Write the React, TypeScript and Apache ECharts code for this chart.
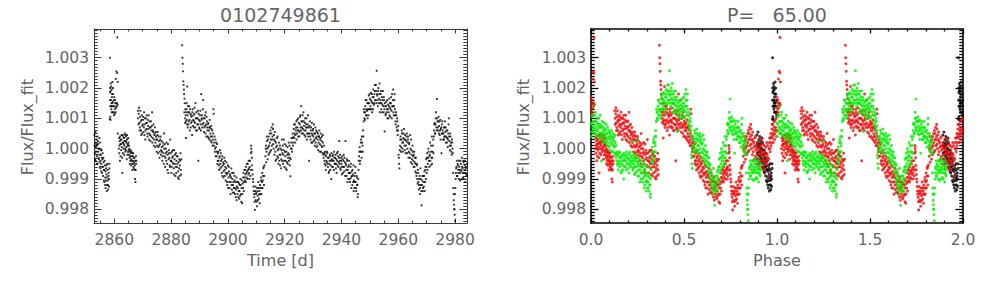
import React, { useEffect, useRef } from "react";
import * as echarts from "echarts";

const STAR_ID = "0102749861";
const PERIOD = 65.0;
const EPOCH = 2860.0;
const PERIOD_TITLE = "P=   65.00";
const TIME_LABEL = "Time [d]";
const PHASE_LABEL = "Phase";
const FLUX_LABEL = "Flux/Flux_fit";

const timeTicks = [2860, 2880, 2900, 2920, 2940, 2960, 2980];
const timeMinorTicks = [2855, 2865, 2870, 2875, 2885, 2890, 2895, 2905, 2910, 2915, 2925, 2930, 2935, 2945, 2950, 2955, 2965, 2970, 2975];
const phaseTicks = [0, 0.5, 1.0, 1.5, 2.0];
const phaseMinorTicks = [0.1, 0.2, 0.3, 0.4, 0.6, 0.7, 0.8, 0.9, 1.1, 1.2, 1.3, 1.4, 1.6, 1.7, 1.8, 1.9];
const fluxTicks = [0.998, 0.999, 1.0, 1.001, 1.002, 1.003];

// light curve: [time (d), flux/flux_fit]
const lcSeg1 = [
  [2853.0, 1.00045], [2853.1, 0.99985], [2853.25, 1.0002], [2853.4, 0.9996], [2853.5, 1.00005], [2853.65, 1.0003],
  [2853.8, 0.99975], [2853.9, 1.0001], [2854.05, 0.9995], [2854.2, 1.00025], [2854.35, 0.9999], [2854.5, 1.0],
  [2854.6, 0.99965], [2854.75, 1.00035], [2854.9, 0.9994], [2855.0, 0.9998], [2855.15, 0.9996], [2855.3, 0.99995],
  [2855.45, 0.99925], [2855.6, 0.9997], [2855.75, 0.9994], [2855.9, 0.99985], [2856.05, 0.9991], [2856.2, 0.99955],
  [2856.35, 0.9993], [2856.5, 0.9989], [2856.65, 0.99945], [2856.8, 0.99905], [2856.95, 0.9987], [2857.1, 0.99935],
  [2857.25, 0.99915], [2857.4, 0.9988], [2857.55, 0.9995], [2857.7, 0.99895], [2857.85, 0.99865], [2858.0, 0.9992],
  [2858.15, 0.999], [2858.3, 0.99935],
  [2853.05, 1.0001], [2853.2, 0.99965], [2853.35, 1.00055], [2853.55, 0.9999], [2853.7, 1.00015], [2853.85, 0.9995],
  [2854.0, 1.0004], [2854.15, 0.9998], [2854.3, 1.00015], [2854.45, 0.9997], [2854.65, 1.0], [2854.8, 0.99955],
  [2854.95, 1.0002], [2855.1, 0.99935], [2855.25, 0.9998], [2855.4, 0.9995], [2855.55, 0.99995], [2855.7, 0.9992],
  [2855.85, 0.99965], [2856.0, 0.9994], [2856.15, 0.9997], [2856.3, 0.99895], [2856.45, 0.9993], [2856.6, 0.9996],
  [2856.75, 0.9988], [2856.9, 0.99925], [2857.05, 0.99895], [2857.2, 0.99945], [2857.35, 0.9986], [2857.5, 0.99905],
  [2857.65, 0.9993], [2857.8, 0.9988], [2857.95, 0.9991], [2858.1, 0.99875], [2858.25, 0.9995],
];
const lcSeg2 = [
  [2858.4, 1.00098], [2858.45, 1.003], [2858.5, 1.002], [2858.55, 1.00185], [2858.6, 1.0014], [2858.65, 1.00095],
  [2858.75, 1.00215], [2858.85, 1.0016], [2858.95, 1.0013], [2859.05, 1.00195], [2859.15, 1.0017], [2859.25, 1.0014],
  [2859.35, 1.0022], [2859.5, 1.00155], [2859.6, 1.0018], [2859.75, 1.0012], [2859.9, 1.0016], [2860.05, 1.0014],
  [2860.2, 1.00115], [2860.35, 1.0015], [2860.5, 1.0023], [2860.6, 1.00135], [2860.75, 1.00255], [2860.9, 1.0015],
  [2861.05, 1.00367], [2861.15, 1.00145], [2861.25, 1.0005],
  [2858.48, 1.0016], [2858.58, 1.00105], [2858.7, 1.0019], [2858.8, 1.0014], [2858.9, 1.00205], [2859.0, 1.0015],
  [2859.1, 1.0012], [2859.2, 1.0018], [2859.3, 1.0015], [2859.45, 1.0012], [2859.55, 1.002], [2859.7, 1.0014],
  [2859.85, 1.0011], [2860.0, 1.0017], [2860.15, 1.0013], [2860.3, 1.0016], [2860.45, 1.0012], [2860.7, 1.0015],
  [2860.85, 1.0014], [2861.0, 1.0025], [2861.2, 1.0022],
];
const lcSeg3 = [
  [2861.6, 1.0], [2861.75, 0.99985], [2861.9, 1.00025], [2862.05, 1.0004], [2862.2, 0.99975], [2862.35, 1.00015],
  [2862.5, 1.0003], [2862.65, 1.00005], [2862.8, 0.9992], [2862.95, 1.00045], [2863.1, 1.0002], [2863.25, 1.0],
  [2863.4, 1.00035], [2863.55, 1.0001], [2863.7, 1.0005], [2863.85, 0.9999], [2864.0, 1.00025], [2864.15, 1.0004],
  [2864.3, 1.00005], [2864.45, 1.0003], [2864.6, 0.9998], [2864.75, 1.00015], [2864.9, 1.00035], [2865.05, 0.99995],
  [2865.2, 1.0001], [2865.35, 0.9997], [2865.5, 0.9999], [2865.65, 0.9996], [2865.8, 0.99985], [2865.95, 0.99965],
  [2866.1, 0.99975], [2866.25, 0.9995], [2866.4, 0.99985], [2866.55, 0.9996], [2866.7, 0.9994], [2866.85, 0.9997],
  [2867.0, 0.99955], [2867.15, 0.9993], [2867.3, 0.999], [2867.45, 0.9989], [2867.6, 0.99975], [2867.75, 0.9996],
  [2861.68, 1.00035], [2861.82, 1.0001], [2861.98, 0.9996], [2862.12, 1.00015], [2862.28, 1.0003], [2862.42, 0.99995],
  [2862.58, 1.00045], [2862.72, 0.9997], [2862.88, 1.0002], [2863.02, 0.99985], [2863.18, 1.0004], [2863.32, 1.00015],
  [2863.48, 0.9998], [2863.62, 1.00025], [2863.78, 1.0], [2863.92, 1.00045], [2864.08, 0.99995], [2864.22, 1.0002],
  [2864.38, 0.99965], [2864.52, 1.00045], [2864.68, 1.0001], [2864.82, 0.9999], [2864.98, 1.0002], [2865.12, 0.9998],
  [2865.28, 1.0], [2865.42, 0.9995], [2865.58, 0.99975], [2865.72, 0.99995], [2865.88, 0.99945], [2866.02, 0.9999],
  [2866.18, 0.9996], [2866.32, 0.9993], [2866.48, 0.99975], [2866.62, 0.99985], [2866.78, 0.9995], [2866.92, 0.99935],
  [2867.08, 0.9997], [2867.22, 0.99945], [2867.38, 0.9996], [2867.52, 0.9993], [2867.68, 0.9995],
];
const lcSeg4 = [
  [2868.3, 1.00125], [2868.5, 1.0008], [2868.7, 1.00135], [2868.9, 1.0006], [2869.1, 1.00105], [2869.3, 1.0009],
  [2869.5, 1.00045], [2869.7, 1.0011], [2869.9, 1.00075], [2870.1, 1.00095], [2870.3, 1.00055], [2870.5, 1.0012],
  [2870.7, 1.0008], [2870.9, 1.0003], [2871.1, 1.001], [2871.3, 1.00065], [2871.5, 1.00085], [2871.7, 1.0004],
  [2871.9, 1.00075], [2872.1, 1.0011], [2872.3, 1.0005], [2872.5, 1.0007], [2872.7, 1.00025], [2872.9, 1.0009],
  [2873.1, 1.0006], [2873.3, 1.0012], [2873.5, 1.00035], [2873.7, 1.00055], [2873.9, 1.0001], [2874.1, 1.00045],
  [2874.3, 1.0007], [2874.5, 1.0002], [2874.7, 1.0004], [2874.9, 0.9999], [2875.1, 1.0003], [2875.3, 1.00055],
  [2875.5, 1.00005], [2875.7, 1.00025], [2875.9, 0.9997], [2876.1, 1.00015], [2876.3, 1.0004], [2876.5, 0.99995],
  [2876.7, 1.00005], [2876.9, 0.9996], [2877.1, 1.0002], [2877.3, 0.99985], [2877.5, 1.0005], [2877.7, 0.99975],
  [2877.9, 0.9994], [2878.1, 1.0], [2878.3, 0.9996], [2878.5, 0.9999], [2878.7, 0.9993], [2878.9, 1.00015],
  [2879.1, 0.99965], [2879.3, 0.99985], [2879.5, 0.99945], [2879.7, 1.0003], [2879.9, 0.9996], [2880.1, 0.9992],
  [2880.3, 0.9999], [2880.5, 0.99955], [2880.7, 0.99975], [2880.9, 0.99935], [2881.1, 0.99995], [2881.3, 0.9995],
  [2881.5, 0.9991], [2881.7, 0.99985], [2881.9, 0.9996], [2882.1, 0.9994], [2882.3, 0.99975], [2882.5, 0.99925],
  [2882.7, 0.999], [2882.9, 0.99965], [2883.1, 0.99945], [2883.3, 0.99985], [2883.5, 0.99915],
  [2868.4, 1.001], [2868.6, 1.00115], [2868.8, 1.00085], [2869.0, 1.0007], [2869.2, 1.00125], [2869.4, 1.0006],
  [2869.6, 1.00095], [2869.8, 1.0005], [2870.0, 1.0008], [2870.2, 1.00105], [2870.4, 1.0007], [2870.6, 1.00045],
  [2870.8, 1.001], [2871.0, 1.0006], [2871.2, 1.00085], [2871.4, 1.0011], [2871.6, 1.0005], [2871.8, 1.00095],
  [2872.0, 1.00065], [2872.2, 1.0003], [2872.4, 1.0009], [2872.6, 1.00045], [2872.8, 1.0007], [2873.0, 1.0004],
  [2873.2, 1.00075], [2873.4, 1.0002], [2873.6, 1.0006], [2873.8, 1.0008], [2874.0, 1.0003], [2874.2, 1.0005],
  [2874.4, 1.00005], [2874.6, 1.00055], [2874.8, 1.0003], [2875.0, 1.0001], [2875.2, 1.00045], [2875.4, 0.99985],
  [2875.6, 1.0004], [2875.8, 1.0001], [2876.0, 0.9999], [2876.2, 1.0003], [2876.4, 0.9998], [2876.6, 1.00025],
  [2876.8, 0.9999], [2877.0, 0.99975], [2877.2, 1.0001], [2877.4, 0.9995], [2877.6, 1.0], [2877.8, 1.00015],
  [2878.0, 0.9997], [2878.2, 0.99985], [2878.4, 1.0002], [2878.6, 0.9995], [2878.8, 0.9998], [2879.0, 0.9992],
  [2879.2, 0.99995], [2879.4, 0.9997], [2879.6, 0.9994], [2879.8, 0.99985], [2880.0, 0.9996], [2880.2, 0.9994],
  [2880.4, 0.9997], [2880.6, 0.99995], [2880.8, 0.9995], [2881.0, 0.99915], [2881.2, 0.99965], [2881.4, 0.9998],
  [2881.6, 0.9994], [2881.8, 0.9992], [2882.0, 0.99975], [2882.2, 0.9995], [2882.4, 0.99905], [2882.6, 0.99955],
  [2882.8, 0.99935], [2883.0, 0.9991], [2883.2, 0.9996], [2883.4, 0.9993], [2883.6, 0.99965],
];
const lcSeg5 = [
  [2883.9, 1.00341], [2884.0, 1.003], [2884.1, 1.0028], [2884.2, 1.00255], [2884.3, 1.00222], [2884.4, 1.0021],
  [2884.5, 1.00195], [2884.65, 1.0012], [2884.8, 1.0015], [2884.95, 1.00085], [2885.1, 1.0011], [2885.25, 1.00035],
  [2885.4, 1.0013], [2885.55, 1.00095], [2885.7, 1.00205], [2885.85, 1.0007], [2886.0, 1.0012], [2886.2, 1.0009],
  [2886.4, 1.0014], [2886.6, 1.0006], [2886.8, 1.00115], [2887.0, 1.00085], [2887.2, 1.00105], [2887.4, 1.00045],
  [2887.6, 1.0013], [2887.8, 1.00095], [2888.0, 1.0007], [2888.2, 1.00115], [2888.4, 1.00085], [2888.6, 1.0015],
  [2888.8, 1.0006], [2889.0, 1.001], [2889.2, 1.0008], [2889.4, 1.00125], [2889.6, 0.9996], [2889.8, 1.00095],
  [2890.0, 1.00065], [2890.2, 1.0011], [2890.4, 1.0008], [2890.6, 1.0018], [2890.8, 1.001], [2891.0, 1.0007],
  [2891.2, 1.0013], [2891.4, 1.00085], [2891.6, 1.00055], [2891.8, 1.001], [2892.0, 1.00075], [2892.2, 1.0012],
  [2892.4, 1.0004], [2892.6, 1.0009], [2892.8, 1.0006], [2893.0, 1.0008], [2893.2, 1.00035], [2893.4, 1.0007],
  [2893.6, 1.00095], [2893.8, 1.0005], [2894.0, 1.00025], [2894.2, 1.00065], [2894.4, 1.0004], [2894.6, 1.0001],
  [2894.8, 1.0005], [2895.0, 1.00115], [2895.2, 1.0002], [2895.4, 0.9999], [2895.6, 1.0003], [2895.8, 1.00005],
  [2896.0, 0.99975], [2896.2, 1.00015], [2896.4, 0.9996], [2896.6, 0.9999], [2896.8, 0.99945], [2897.0, 0.9997],
  [2897.2, 0.99995], [2897.4, 0.99935], [2897.6, 0.9996], [2897.8, 0.9992], [2898.0, 0.99975], [2898.2, 0.99945],
  [2898.4, 0.99905], [2898.6, 0.9995], [2898.8, 0.9993], [2899.0, 0.9996], [2899.2, 0.99895], [2899.4, 0.99935],
  [2899.6, 0.99915], [2899.8, 0.9988], [2900.0, 0.99945], [2900.2, 0.99905], [2900.4, 0.99925], [2900.6, 0.9987],
  [2900.8, 0.9991], [2901.0, 0.9989], [2901.2, 0.99935], [2901.4, 0.99865], [2901.6, 0.999], [2901.8, 0.9988],
  [2902.0, 0.9992], [2902.2, 0.99855], [2902.4, 0.99895], [2902.6, 0.9987], [2902.8, 0.9984], [2903.0, 0.99905],
  [2903.2, 0.99875], [2903.4, 0.9985], [2903.6, 0.9989], [2903.8, 0.9986], [2904.0, 0.99835], [2904.2, 0.9988],
  [2904.4, 0.999], [2904.6, 0.9985], [2904.8, 0.9987], [2905.0, 0.9982], [2905.2, 0.99885], [2905.4, 0.99905],
  [2905.6, 0.9986], [2905.8, 0.9993], [2906.0, 0.99895], [2906.2, 0.99915], [2906.4, 0.9994], [2906.6, 0.99905],
  [2906.8, 0.99925], [2907.0, 0.9995], [2907.2, 0.99915], [2907.4, 0.99935], [2907.6, 0.999], [2907.8, 0.9996],
  [2908.0, 0.9993], [2908.2, 1.0001], [2908.35, 0.9999], [2908.5, 0.99945], [2908.7, 0.99915], [2908.9, 0.9989],
  [2909.1, 0.9986], [2909.3, 0.9984], [2909.5, 0.99798], [2909.7, 0.99875], [2909.9, 0.9985], [2910.1, 0.99825],
  [2910.3, 0.9987], [2910.5, 0.99845], [2910.7, 0.9989], [2910.9, 0.99835], [2911.1, 0.9986], [2911.3, 0.9988],
  [2911.5, 0.9985], [2911.7, 0.99905], [2911.9, 0.9987], [2912.1, 0.9992], [2912.3, 0.99895], [2912.5, 0.99935],
  [2912.7, 0.9988], [2912.9, 0.99945],
  [2884.58, 1.0018], [2884.72, 1.00165], [2884.88, 1.001], [2885.02, 1.0013], [2885.18, 1.0009], [2885.32, 1.0012],
  [2885.48, 1.0015], [2885.62, 1.0008], [2885.78, 1.0011], [2885.92, 1.0014], [2886.1, 1.0008], [2886.3, 1.0012],
  [2886.5, 1.00095], [2886.7, 1.0013], [2886.9, 1.0007], [2887.1, 1.0011], [2887.3, 1.0009], [2887.5, 1.0012],
  [2887.7, 1.00075], [2887.9, 1.0011], [2888.1, 1.0009], [2888.3, 1.00135], [2888.5, 1.0007], [2888.7, 1.001],
  [2888.9, 1.0012], [2889.1, 1.0006], [2889.3, 1.001], [2889.5, 1.0008], [2889.7, 1.00115], [2889.9, 1.0007],
  [2890.1, 1.0009], [2890.3, 1.00125], [2890.5, 1.0006], [2890.7, 1.00095], [2890.9, 1.0011], [2891.1, 1.0008],
  [2891.3, 1.0016], [2891.5, 1.001], [2891.7, 1.0007], [2891.9, 1.0011], [2892.1, 1.0005], [2892.3, 1.0008],
  [2892.5, 1.00105], [2892.7, 1.0007], [2892.9, 1.0004], [2893.1, 1.00085], [2893.3, 1.0006], [2893.5, 1.0003],
  [2893.7, 1.0007], [2893.9, 1.0004], [2894.1, 1.00075], [2894.3, 1.0002], [2894.5, 1.0006], [2894.7, 1.0003],
  [2894.9, 1.0013], [2895.1, 1.0001], [2895.3, 1.0004], [2895.5, 1.0], [2895.7, 0.99975], [2895.9, 1.0002],
  [2896.1, 0.9999], [2896.3, 0.9995], [2896.5, 0.99985], [2896.7, 0.9996], [2896.9, 0.9993], [2897.1, 0.99975],
  [2897.3, 0.9995], [2897.5, 0.99985], [2897.7, 0.9994], [2897.9, 0.99965], [2898.1, 0.9991], [2898.3, 0.99955],
  [2898.5, 0.99925], [2898.7, 0.9997], [2898.9, 0.9991], [2899.1, 0.9994], [2899.3, 0.9992], [2899.5, 0.99955],
  [2899.7, 0.9989], [2899.9, 0.9992], [2900.1, 0.9987], [2900.3, 0.9994], [2900.5, 0.9989], [2900.7, 0.99915],
  [2900.9, 0.9985], [2901.1, 0.99905], [2901.3, 0.9988], [2901.5, 0.9992], [2901.7, 0.99855], [2901.9, 0.9989],
  [2902.1, 0.9987], [2902.3, 0.9991], [2902.5, 0.9985], [2902.7, 0.9989], [2902.9, 0.99865], [2903.1, 0.9983],
  [2903.3, 0.9989], [2903.5, 0.9987], [2903.7, 0.9984], [2903.9, 0.99885], [2904.1, 0.9986], [2904.3, 0.99845],
  [2904.5, 0.9988], [2904.7, 0.99825], [2904.9, 0.99895], [2905.1, 0.9985], [2905.3, 0.9987], [2905.5, 0.9992],
  [2905.7, 0.9989], [2905.9, 0.99905], [2906.1, 0.9993], [2906.3, 0.9989], [2906.5, 0.9992], [2906.7, 0.9995],
  [2906.9, 0.999], [2907.1, 0.9993], [2907.3, 0.9996], [2907.5, 0.9992], [2907.7, 0.9994], [2907.9, 0.9991],
  [2908.1, 0.99985], [2908.25, 1.0], [2908.45, 0.9997], [2908.6, 0.9993], [2908.8, 0.999], [2909.0, 0.99875],
  [2909.2, 0.9985], [2909.4, 0.99825], [2909.6, 0.9986], [2909.8, 0.9983], [2910.0, 0.99855], [2910.2, 0.9981],
  [2910.4, 0.9986], [2910.6, 0.9983], [2910.8, 0.9987], [2911.0, 0.9985], [2911.2, 0.9982], [2911.4, 0.9987],
  [2911.6, 0.99895], [2911.8, 0.9985], [2912.0, 0.9989], [2912.2, 0.9987], [2912.4, 0.9991], [2912.6, 0.9994],
  [2912.8, 0.9991],
];
const lcSeg6 = [
  [2913.2, 0.99975], [2913.4, 1.0001], [2913.6, 0.9999], [2913.8, 1.00025], [2914.0, 0.99965], [2914.2, 1.00005],
  [2914.4, 1.0004], [2914.6, 0.99985], [2914.8, 1.0002], [2915.0, 1.0006], [2915.2, 0.99995], [2915.4, 1.0007],
  [2915.6, 1.0003], [2915.8, 1.0008], [2916.0, 1.00015], [2916.2, 1.00045], [2916.4, 0.9998], [2916.6, 1.00025],
  [2916.8, 0.9996], [2917.0, 1.00005], [2917.2, 1.00035], [2917.4, 0.99975], [2917.6, 0.99995], [2917.8, 0.9995],
  [2918.0, 1.0002], [2918.2, 0.9998], [2918.4, 0.99945], [2918.6, 1.0], [2918.8, 0.99965], [2919.0, 1.0003],
  [2919.2, 0.99985], [2919.4, 0.9995], [2919.6, 0.99995], [2919.8, 0.9996], [2920.0, 1.00015], [2920.2, 0.99975],
  [2920.4, 0.99935], [2920.6, 0.9999], [2920.8, 0.99955], [2921.0, 1.00005], [2921.2, 0.9997], [2921.4, 1.0002],
  [2921.6, 0.9998], [2921.8, 0.99945], [2922.0, 0.99909], [2922.2, 1.0], [2922.4, 1.00035], [2922.6, 0.9999],
  [2922.8, 1.0005], [2923.0, 1.0002], [2923.2, 1.00065], [2923.4, 1.00035], [2923.6, 1.0008], [2923.8, 1.00045],
  [2924.0, 1.0007], [2924.2, 1.0003], [2924.4, 1.00095], [2924.6, 1.0006], [2924.8, 1.0004], [2925.0, 1.00085],
  [2925.2, 1.00055], [2925.4, 1.00105], [2925.6, 1.0007], [2925.8, 1.0014], [2926.0, 1.0005], [2926.2, 1.0009],
  [2926.4, 1.00065], [2926.6, 1.0012], [2926.8, 1.00075], [2927.0, 1.00045], [2927.2, 1.001], [2927.4, 1.0006],
  [2927.6, 1.0008], [2927.8, 1.0003], [2928.0, 1.0007], [2928.2, 1.0011], [2928.4, 1.0005], [2928.6, 0.9996],
  [2928.8, 1.00075], [2929.0, 1.0004], [2929.2, 1.0006], [2929.4, 1.0002], [2929.6, 1.00085], [2929.8, 1.00045],
  [2930.0, 1.00065], [2930.2, 1.00025], [2930.4, 1.0005], [2930.6, 1.0001], [2930.8, 1.0007], [2931.0, 1.00035],
  [2931.2, 1.00005], [2931.4, 1.00055], [2931.6, 1.0003], [2931.8, 0.99995], [2932.0, 1.0004], [2932.2, 1.0006],
  [2932.4, 1.00015], [2932.6, 1.00035], [2932.8, 0.9999], [2933.0, 1.00025], [2933.2, 1.00005], [2933.4, 1.00045],
  [2933.6, 0.9998], [2933.8, 1.0001], [2934.0, 0.9996], [2934.2, 0.9999], [2934.4, 0.99945], [2934.6, 0.99975],
  [2934.8, 0.99955], [2935.0, 0.99985], [2935.2, 0.9994], [2935.4, 0.9997], [2935.6, 0.99925], [2935.8, 0.9996],
  [2936.0, 0.9998], [2936.2, 0.99945], [2936.4, 0.999], [2936.6, 0.99965], [2936.8, 0.99975], [2937.0, 0.9994],
  [2937.2, 0.9996], [2937.4, 0.9999], [2937.6, 0.9995], [2937.8, 0.9997], [2938.0, 0.99935], [2938.2, 0.99965],
  [2938.4, 0.99985], [2938.6, 0.99945], [2938.8, 0.99975], [2939.0, 0.99955], [2939.2, 1.00025], [2939.4, 0.9996],
  [2939.6, 0.99935], [2939.8, 0.9997], [2940.0, 0.9995], [2940.2, 0.99915], [2940.4, 0.99965], [2940.6, 0.9994],
  [2940.8, 0.9998], [2941.0, 0.99925], [2941.2, 0.99955], [2941.4, 1.00025], [2941.6, 0.99945], [2941.8, 0.9991],
  [2942.0, 0.9996], [2942.2, 0.9993], [2942.4, 0.999], [2942.6, 0.99945], [2942.8, 0.9992], [2943.0, 0.9989],
  [2943.2, 0.9994], [2943.4, 0.99905], [2943.6, 0.99925], [2943.8, 0.9988], [2944.0, 0.99915], [2944.2, 0.99945],
  [2944.4, 0.99895], [2944.6, 0.9987], [2944.8, 0.9992], [2945.0, 0.9989], [2945.2, 0.9986], [2945.4, 0.99905],
  [2945.6, 0.99881], [2945.8, 0.9985], [2946.0, 0.9993], [2946.2, 0.99975], [2946.4, 1.00005], [2946.6, 0.9996],
  [2946.8, 1.0002], [2947.0, 0.9999], [2947.2, 1.0004], [2947.4, 1.0001], [2947.6, 1.0006],
  [2913.3, 1.0], [2913.5, 0.99955], [2913.7, 1.0004], [2913.9, 1.0], [2914.1, 1.0003], [2914.3, 0.9998],
  [2914.5, 1.0001], [2914.7, 1.0005], [2914.9, 0.9999], [2915.1, 1.0003], [2915.3, 1.0005], [2915.5, 1.0001],
  [2915.7, 1.0004], [2915.9, 1.00065], [2916.1, 1.0], [2916.3, 1.0003], [2916.5, 1.00055], [2916.7, 0.9999],
  [2916.9, 1.0002], [2917.1, 0.99965], [2917.3, 1.0001], [2917.5, 1.0004], [2917.7, 0.9997], [2917.9, 1.0],
  [2918.1, 0.9996], [2918.3, 1.0001], [2918.5, 0.9998], [2918.7, 0.99935], [2918.9, 0.99995], [2919.1, 0.9996],
  [2919.3, 1.0001], [2919.5, 0.9998], [2919.7, 1.0003], [2919.9, 0.9994], [2920.1, 0.9999], [2920.3, 0.9996],
  [2920.5, 1.0001], [2920.7, 0.9993], [2920.9, 0.9998], [2921.1, 0.9995], [2921.3, 0.99985], [2921.5, 0.9996],
  [2921.7, 1.0001], [2921.9, 0.9997], [2922.1, 0.99965], [2922.3, 1.0002], [2922.5, 1.0], [2922.7, 1.00035],
  [2922.9, 1.0001], [2923.1, 1.0004], [2923.3, 1.0008], [2923.5, 1.0005], [2923.7, 1.0002], [2923.9, 1.0006],
  [2924.1, 1.0009], [2924.3, 1.0005], [2924.5, 1.0007], [2924.7, 1.001], [2924.9, 1.0006], [2925.1, 1.0004],
  [2925.3, 1.0008], [2925.5, 1.0011], [2925.7, 1.0006], [2925.9, 1.0009], [2926.1, 1.0007], [2926.3, 1.0011],
  [2926.5, 1.0005], [2926.7, 1.0009], [2926.9, 1.0006], [2927.1, 1.00085], [2927.3, 1.0004], [2927.5, 1.0007],
  [2927.7, 1.001], [2927.9, 1.0005], [2928.1, 1.0008], [2928.3, 1.0004], [2928.5, 1.0007], [2928.7, 1.0005],
  [2928.9, 1.0009], [2929.1, 1.0003], [2929.3, 1.0007], [2929.5, 1.0005], [2929.7, 1.0002], [2929.9, 1.0006],
  [2930.1, 1.0004], [2930.3, 1.0008], [2930.5, 1.0003], [2930.7, 1.0005], [2930.9, 1.0002], [2931.1, 1.0006],
  [2931.3, 1.0004], [2931.5, 1.0001], [2931.7, 1.0005], [2931.9, 1.0002], [2932.1, 1.0004], [2932.3, 0.9999],
  [2932.5, 1.0003], [2932.7, 1.0005], [2932.9, 1.0001], [2933.1, 1.0004], [2933.3, 0.99985], [2933.5, 1.0002],
  [2933.7, 0.9997], [2933.9, 0.99985], [2934.1, 0.9995], [2934.3, 0.9998], [2934.5, 0.9993], [2934.7, 0.9996],
  [2934.9, 0.9999], [2935.1, 0.9995], [2935.3, 0.9997], [2935.5, 0.9992], [2935.7, 0.9995], [2935.9, 0.99975],
  [2936.1, 0.9993], [2936.3, 0.9996], [2936.5, 0.99985], [2936.7, 0.9994], [2936.9, 0.9996], [2937.1, 0.9998],
  [2937.3, 0.9993], [2937.5, 0.9997], [2937.7, 0.9995], [2937.9, 0.9998], [2938.1, 0.9995], [2938.3, 0.9992],
  [2938.5, 0.9996], [2938.7, 0.9999], [2938.9, 0.9994], [2939.1, 0.9997], [2939.3, 0.9995], [2939.5, 0.9998],
  [2939.7, 0.9993], [2939.9, 0.9996], [2940.1, 0.9994], [2940.3, 0.99975], [2940.5, 0.9992], [2940.7, 0.9996],
  [2940.9, 0.9994], [2941.1, 0.9997], [2941.3, 0.9991], [2941.5, 0.9995], [2941.7, 0.9993], [2941.9, 0.99965],
  [2942.1, 0.9989], [2942.3, 0.9994], [2942.5, 0.9992], [2942.7, 0.9996], [2942.9, 0.999], [2943.1, 0.9992],
  [2943.3, 0.9995], [2943.5, 0.9987], [2943.7, 0.9991], [2943.9, 0.9993], [2944.1, 0.9989], [2944.3, 0.9986],
  [2944.5, 0.9991], [2944.7, 0.9989], [2944.9, 0.9994], [2945.1, 0.9987], [2945.3, 0.9991], [2945.5, 0.9988],
  [2945.7, 0.9984], [2945.9, 0.999], [2946.1, 0.9996], [2946.3, 0.9999], [2946.5, 0.9995], [2946.7, 0.9999],
  [2946.9, 1.0003], [2947.1, 0.9997], [2947.3, 1.0002], [2947.5, 0.9999], [2947.7, 1.0004],
];
const lcSeg7 = [
  [2947.8, 1.0009], [2948.0, 1.0012], [2948.2, 1.00095], [2948.4, 1.0014], [2948.6, 1.0011], [2948.8, 1.0016],
  [2949.0, 1.00125], [2949.2, 1.001], [2949.4, 1.0015], [2949.6, 1.00175], [2949.8, 1.0013], [2950.0, 1.00165],
  [2950.2, 1.0014], [2950.4, 1.00185], [2950.6, 1.00155], [2950.8, 1.0012], [2951.0, 1.0017], [2951.2, 1.00195],
  [2951.4, 1.00145], [2951.6, 1.0018], [2951.8, 1.0021], [2952.0, 1.0016], [2952.2, 1.0019], [2952.4, 1.00257],
  [2952.6, 1.00175], [2952.8, 1.0014], [2953.0, 1.002], [2953.2, 1.00165], [2953.4, 1.00215], [2953.6, 1.0015],
  [2953.8, 1.0018], [2954.0, 1.0013], [2954.2, 1.0017], [2954.4, 1.00145], [2954.6, 1.0019], [2954.8, 1.0012],
  [2955.0, 1.0016], [2955.2, 1.00057], [2955.4, 1.0014], [2955.6, 1.00115], [2955.8, 1.00155], [2956.0, 1.0013],
  [2956.2, 1.001], [2956.4, 1.00145], [2956.6, 1.0012], [2956.8, 1.00165], [2957.0, 1.00135], [2957.2, 1.00105],
  [2957.4, 1.0015], [2957.6, 1.00125], [2957.8, 1.0018], [2958.0, 1.0014], [2958.2, 1.00195], [2958.4, 1.0011],
  [2958.6, 1.0016], [2958.8, 1.0013], [2959.0, 1.0009], [2959.2, 1.0012], [2959.4, 1.0007], [2959.6, 1.001],
  [2959.8, 1.00045], [2960.0, 1.00075], [2960.2, 0.9997], [2960.4, 0.99935], [2960.6, 1.0001], [2960.8, 1.0004],
  [2961.0, 1.00005], [2961.2, 1.0006], [2961.4, 1.0002], [2961.6, 0.9999], [2961.8, 1.00035], [2962.0, 1.00065],
  [2962.2, 1.0001], [2962.4, 1.00045], [2962.6, 0.99985], [2962.8, 1.00025], [2963.0, 1.0005], [2963.2, 1.0],
  [2963.4, 1.0003], [2963.6, 0.9997], [2963.8, 1.00015], [2964.0, 0.99985], [2964.2, 1.00045], [2964.4, 0.99955],
  [2964.6, 0.99995], [2964.8, 0.99965], [2965.0, 1.0001], [2965.2, 0.99975], [2965.4, 0.9994], [2965.6, 0.9999],
  [2965.8, 0.99955], [2966.0, 0.99925], [2966.2, 0.9997], [2966.4, 0.9991], [2966.6, 0.99945], [2966.8, 0.99885],
  [2967.0, 0.9992], [2967.2, 0.99865], [2967.4, 0.999], [2967.6, 0.9985], [2967.8, 0.99935], [2968.0, 0.9988],
  [2968.2, 0.99813], [2968.4, 0.99895], [2968.6, 0.9986], [2968.8, 0.9991], [2969.0, 0.99875], [2969.2, 0.99925],
  [2969.4, 0.9989], [2969.6, 0.9994], [2969.8, 0.99965], [2970.0, 0.9992], [2970.2, 0.99985], [2970.4, 0.9995],
  [2970.6, 1.0], [2970.8, 0.9996], [2971.0, 0.99975], [2971.2, 1.0002], [2971.4, 0.99945], [2971.6, 0.9999],
  [2971.8, 1.0004], [2972.0, 0.9997], [2972.2, 1.0001], [2972.4, 0.99985], [2972.6, 1.0006], [2972.8, 1.00085],
  [2973.0, 1.0005], [2973.2, 1.001], [2973.4, 1.0007], [2973.6, 1.00164], [2973.8, 1.0009], [2974.0, 1.0006],
  [2974.2, 1.00105], [2974.4, 1.00075], [2974.6, 1.00045], [2974.8, 1.00095], [2975.0, 1.00065], [2975.2, 0.99985],
  [2975.4, 1.0008], [2975.6, 1.0005], [2975.8, 1.0003], [2976.0, 1.0007], [2976.2, 1.0004], [2976.4, 1.0009],
  [2976.6, 1.00055], [2976.8, 1.0002], [2977.0, 1.0006], [2977.2, 1.00035], [2977.4, 1.00005], [2977.6, 1.0005],
  [2977.8, 1.001], [2978.0, 1.00025], [2978.2, 0.99995], [2978.4, 1.0004], [2978.6, 1.0001], [2978.8, 0.9998],
  [2979.0, 1.0002], [2979.2, 0.99985], [2979.4, 0.9987], [2979.55, 0.9983], [2979.7, 0.998], [2979.85, 0.99782],
  [2980.0, 0.99762], [2980.2, 0.999], [2980.4, 0.99935], [2980.6, 0.9996], [2980.8, 0.9991], [2981.0, 0.99945],
  [2981.2, 0.9992], [2981.4, 0.9996], [2981.6, 0.9993], [2981.8, 0.99895], [2982.0, 0.9995], [2982.2, 0.99925],
  [2982.4, 0.9997], [2982.6, 0.99935], [2982.8, 0.99905], [2983.0, 0.99955], [2983.2, 0.9992], [2983.4, 0.99945],
  [2983.6, 0.9989], [2983.8, 0.99935], [2984.0, 0.99915], [2984.2, 0.9995],
  [2947.9, 1.0013], [2948.1, 1.001], [2948.3, 1.0012], [2948.5, 1.0016], [2948.7, 1.0013], [2948.9, 1.0011],
  [2949.1, 1.0015], [2949.3, 1.0013], [2949.5, 1.0011], [2949.7, 1.0015], [2949.9, 1.0018], [2950.1, 1.0013],
  [2950.3, 1.0016], [2950.5, 1.0013], [2950.7, 1.0018], [2950.9, 1.0015], [2951.1, 1.0013], [2951.3, 1.0017],
  [2951.5, 1.0015], [2951.7, 1.0019], [2951.9, 1.0016], [2952.1, 1.0021], [2952.3, 1.0015], [2952.5, 1.0018],
  [2952.7, 1.0016], [2952.9, 1.0019], [2953.1, 1.0015], [2953.3, 1.0018], [2953.5, 1.0012], [2953.7, 1.0016],
  [2953.9, 1.0019], [2954.1, 1.0015], [2954.3, 1.0012], [2954.5, 1.0016], [2954.7, 1.0014], [2954.9, 1.0017],
  [2955.1, 1.0013], [2955.3, 1.0015], [2955.5, 1.0011], [2955.7, 1.0014], [2955.9, 1.0012], [2956.1, 1.0016],
  [2956.3, 1.0013], [2956.5, 1.001], [2956.7, 1.0014], [2956.9, 1.0011], [2957.1, 1.0015], [2957.3, 1.0013],
  [2957.5, 1.0017], [2957.7, 1.001], [2957.9, 1.0014], [2958.1, 1.0016], [2958.3, 1.0012], [2958.5, 1.0014],
  [2958.7, 1.0018], [2958.9, 1.0011], [2959.1, 1.0008], [2959.3, 1.0011], [2959.5, 1.0006], [2959.7, 1.0009],
  [2959.9, 1.0006], [2960.1, 0.9998], [2960.3, 0.9995], [2960.5, 0.99995], [2960.7, 1.0003], [2960.9, 0.9999],
  [2961.1, 1.0003], [2961.3, 1.0005], [2961.5, 1.0], [2961.7, 1.0002], [2961.9, 1.0005], [2962.1, 1.0003],
  [2962.3, 0.99995], [2962.5, 1.0003], [2962.7, 1.0001], [2962.9, 1.0004], [2963.1, 0.99985], [2963.3, 1.0002],
  [2963.5, 1.0004], [2963.7, 0.9999], [2963.9, 1.0002], [2964.1, 0.9997], [2964.3, 1.0], [2964.5, 1.0003],
  [2964.7, 0.9998], [2964.9, 0.9995], [2965.1, 0.9999], [2965.3, 0.9996], [2965.5, 0.9998], [2965.7, 0.9994],
  [2965.9, 0.9997], [2966.1, 0.9995], [2966.3, 0.9992], [2966.5, 0.9995], [2966.7, 0.999], [2966.9, 0.9993],
  [2967.1, 0.9989], [2967.3, 0.9988], [2967.5, 0.9991], [2967.7, 0.9987], [2967.9, 0.999], [2968.1, 0.9986],
  [2968.3, 0.9988], [2968.5, 0.9991], [2968.7, 0.9987], [2968.9, 0.9989], [2969.1, 0.9991], [2969.3, 0.9986],
  [2969.5, 0.9993], [2969.7, 0.999], [2969.9, 0.9994], [2970.1, 0.9997], [2970.3, 0.9993], [2970.5, 0.9997],
  [2970.7, 0.9999], [2970.9, 0.9994], [2971.1, 0.9998], [2971.3, 0.9996], [2971.5, 1.0001], [2971.7, 0.9997],
  [2971.9, 0.9995], [2972.1, 0.9999], [2972.3, 1.0003], [2972.5, 1.0004], [2972.7, 1.0008], [2972.9, 1.0005],
  [2973.1, 1.0008], [2973.3, 1.0012], [2973.5, 1.0006], [2973.7, 1.001], [2973.9, 1.0007], [2974.1, 1.0009],
  [2974.3, 1.0005], [2974.5, 1.0009], [2974.7, 1.0006], [2974.9, 1.0003], [2975.1, 1.0007], [2975.3, 1.0005],
  [2975.5, 1.0009], [2975.7, 1.0006], [2975.9, 1.0005], [2976.1, 1.0003], [2976.3, 1.0007], [2976.5, 1.0004],
  [2976.7, 1.0007], [2976.9, 1.0004], [2977.1, 1.0002], [2977.3, 1.0006], [2977.5, 1.0003], [2977.7, 1.0008],
  [2977.9, 1.0004], [2978.1, 1.0001], [2978.3, 1.0005], [2978.5, 1.0002], [2978.7, 0.9999], [2978.9, 1.0003],
  [2979.1, 1.0], [2979.3, 0.9992], [2979.5, 0.9985], [2979.65, 0.99815], [2979.8, 0.998], [2979.95, 0.9985],
  [2980.1, 0.9987], [2980.3, 0.9992], [2980.5, 0.9994], [2980.7, 0.9991], [2980.9, 0.9995], [2981.1, 0.9993],
  [2981.3, 0.999], [2981.5, 0.9994], [2981.7, 0.9992], [2981.9, 0.9996], [2982.1, 0.9993], [2982.3, 0.999],
  [2982.5, 0.9994], [2982.7, 0.9992], [2982.9, 0.9996], [2983.1, 0.999], [2983.3, 0.9993], [2983.5, 0.9996],
  [2983.7, 0.9992], [2983.9, 0.9994], [2984.1, 0.9991], [2984.25, 0.9993],
];

const lightCurve = [...lcSeg1, ...lcSeg2, ...lcSeg3, ...lcSeg4, ...lcSeg5, ...lcSeg6, ...lcSeg7];

const TEXT_COLOR = "#656565";
const FONT = "DejaVu Sans";

function makeFluxMinor(): number[] {
  const out: number[] = [];
  for (let k = 9976; k <= 10039; k++) {
    if (k % 10 !== 0) out.push(k / 10000);
  }
  return out;
}
const fluxMinorTicks = makeFluxMinor();

function xAxes(grid: number, min: number, max: number, majors: number[], minors: number[], fmt: (v: number) => string, lw: number, lc: string) {
  const base = { type: "value", gridIndex: grid, min, max, splitLine: { show: false } };
  const line = { show: true, onZero: false, lineStyle: { color: lc, width: lw } };
  const noLine = { show: false, onZero: false };
  const tickStyle = { color: lc, width: lw > 1 ? 1.3 : 1 };
  return [
    {
      ...base, position: "bottom", axisLine: line,
      axisTick: { show: true, inside: true, length: 4.5, customValues: majors, lineStyle: tickStyle },
      axisLabel: { show: true, customValues: majors, formatter: fmt, margin: 9, fontSize: 15.5, color: TEXT_COLOR, fontFamily: FONT },
    },
    {
      ...base, position: "bottom", axisLine: noLine,
      axisTick: { show: true, inside: true, length: 2.5, customValues: minors, lineStyle: tickStyle },
      axisLabel: { show: false },
    },
    {
      ...base, position: "top", axisLine: line,
      axisTick: { show: true, inside: true, length: 4.5, customValues: majors, lineStyle: tickStyle },
      axisLabel: { show: false },
    },
    {
      ...base, position: "top", axisLine: noLine,
      axisTick: { show: true, inside: true, length: 2.5, customValues: minors, lineStyle: tickStyle },
      axisLabel: { show: false },
    },
  ];
}

function yAxes(grid: number, lw: number, lc: string) {
  const base = { type: "value", gridIndex: grid, min: 0.997548, max: 1.003947, splitLine: { show: false } };
  const line = { show: true, onZero: false, lineStyle: { color: lc, width: lw } };
  const noLine = { show: false, onZero: false };
  const tickStyle = { color: lc, width: lw > 1 ? 1.3 : 1 };
  return [
    {
      ...base, position: "left", axisLine: line,
      axisTick: { show: true, inside: true, length: 7.5, customValues: fluxTicks, lineStyle: tickStyle },
      axisLabel: { show: true, customValues: fluxTicks, formatter: (v: number) => v.toFixed(3), margin: 5, fontSize: 15.5, color: TEXT_COLOR, fontFamily: FONT },
    },
    {
      ...base, position: "left", axisLine: noLine,
      axisTick: { show: true, inside: true, length: 3.7, customValues: fluxMinorTicks, lineStyle: tickStyle },
      axisLabel: { show: false },
    },
    {
      ...base, position: "right", axisLine: line,
      axisTick: { show: true, inside: true, length: 7.5, customValues: fluxTicks, lineStyle: tickStyle },
      axisLabel: { show: false },
    },
    {
      ...base, position: "right", axisLine: noLine,
      axisTick: { show: true, inside: true, length: 3.7, customValues: fluxMinorTicks, lineStyle: tickStyle },
      axisLabel: { show: false },
    },
  ];
}

function phaseOf(t: number) {
  const p = (t - EPOCH) / PERIOD;
  return p - Math.floor(p);
}
function cycleOf(t: number) {
  return Math.floor((t - EPOCH) / PERIOD);
}
function foldedPoints(cycle: number) {
  const out: number[][] = [];
  for (const [t, f] of lightCurve) {
    if (cycleOf(t) === cycle) {
      const ph = phaseOf(t);
      out.push([ph, f]);
      out.push([ph + 1, f]);
    }
  }
  return out;
}

export default function App() {
  const ref = useRef<HTMLDivElement>(null);
  useEffect(() => {
    if (!ref.current) return;
    const chart = echarts.init(ref.current, null, { renderer: "svg" });
    const textStyle = (size: number) => ({ fontSize: size, fill: TEXT_COLOR, fontFamily: FONT, align: "center", verticalAlign: "middle" });
    const scatterBase = { type: "scatter", silent: true, progressive: 0, large: false, animation: false };
    chart.setOption({
      animation: false,
      backgroundColor: "#ffffff",
      grid: [
        { left: 94, top: 29, width: 373, height: 194 },
        { left: 591, top: 29, width: 372, height: 194 },
      ],
      xAxis: [
        ...xAxes(0, 2852.85, 2984.2, timeTicks, timeMinorTicks, (v: number) => String(Math.round(v)), 1, "#3a3a3a"),
        ...xAxes(1, 0, 2, phaseTicks, phaseMinorTicks, (v: number) => v.toFixed(1), 1.6, "#000000"),
      ],
      yAxis: [...yAxes(0, 1, "#3a3a3a"), ...yAxes(1, 1.6, "#000000")],
      series: [
        { ...scatterBase, xAxisIndex: 0, yAxisIndex: 0, data: lightCurve, symbol: "rect", symbolSize: 1.9, itemStyle: { color: "#000000" } },
        { ...scatterBase, xAxisIndex: 4, yAxisIndex: 4, data: foldedPoints(-1), symbol: "circle", symbolSize: 3, itemStyle: { color: "#000000" } },
        { ...scatterBase, xAxisIndex: 4, yAxisIndex: 4, data: foldedPoints(0), symbol: "circle", symbolSize: 3, itemStyle: { color: "#f00a0a" } },
        { ...scatterBase, xAxisIndex: 4, yAxisIndex: 4, data: foldedPoints(1), symbol: "circle", symbolSize: 3, itemStyle: { color: "#00f000" } },
      ],
      graphic: [
        { type: "text", x: 280.5, y: 15, style: { text: STAR_ID, ...textStyle(19) } },
        { type: "text", x: 777, y: 15, style: { text: PERIOD_TITLE, ...textStyle(19) } },
        { type: "text", x: 280.5, y: 260, style: { text: TIME_LABEL, ...textStyle(16) } },
        { type: "text", x: 777, y: 260, style: { text: PHASE_LABEL, ...textStyle(16) } },
        { type: "text", x: 27, y: 127, rotation: Math.PI / 2, style: { text: FLUX_LABEL, ...textStyle(16) } },
        { type: "text", x: 523, y: 127, rotation: Math.PI / 2, style: { text: FLUX_LABEL, ...textStyle(16) } },
      ],
    });
    return () => chart.dispose();
  }, []);
  return <div ref={ref} style={{ position: "absolute", left: 0, top: 0, width: 992, height: 283 }} />;
}
